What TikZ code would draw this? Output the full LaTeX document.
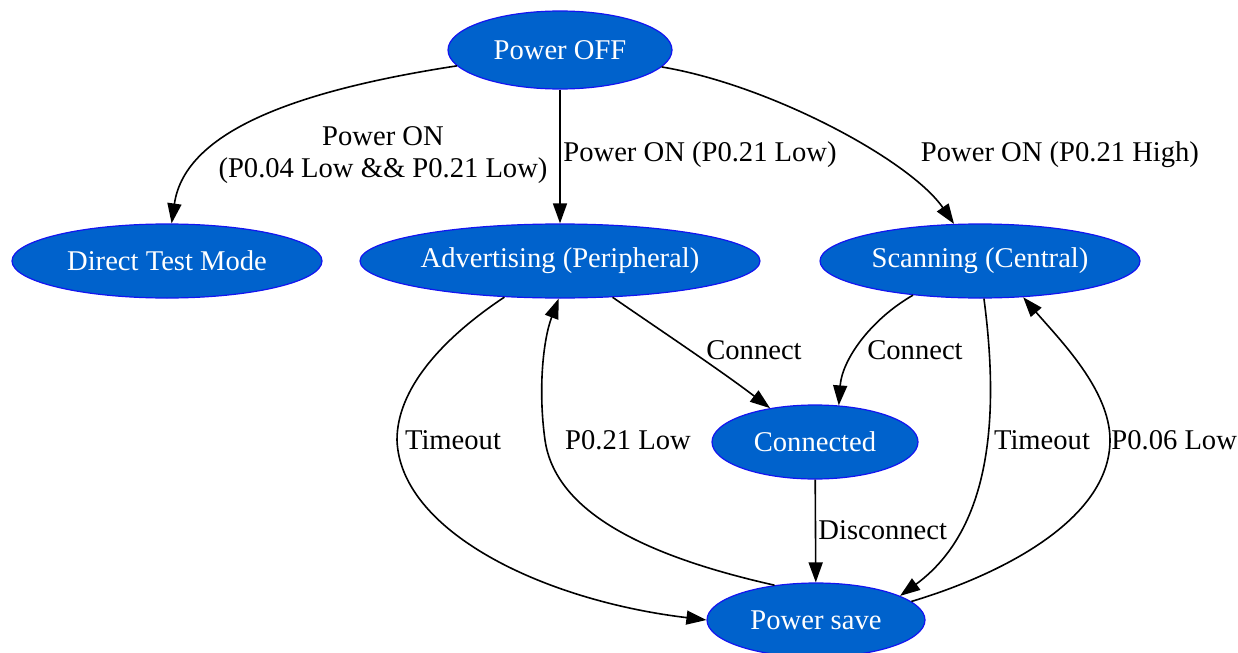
\documentclass[tikz,border=0pt]{standalone}
\usepackage{fontspec}
\setmainfont{Liberation Serif}
\usepackage{xcolor}
\usetikzlibrary{shapes.geometric,arrows.meta}
\definecolor{statefill}{RGB}{0,98,204}
\definecolor{stateline}{RGB}{20,20,240}

\begin{document}
\begin{tikzpicture}[x=0.5pt,y=-0.5pt,
  state/.style={ellipse,draw=stateline,fill=statefill,text=white,line width=0.6pt,inner sep=0pt,minimum height=37pt,font=\fontsize{14.3}{16}\selectfont},
  trans/.style={-{Triangle[length=10pt,width=7pt]},line width=0.8pt,black},
  lbl/.style={inner sep=0pt,font=\fontsize{14.3}{16}\selectfont,align=center}]
\useasboundingbox (0,0) rectangle (1238,653);

\node[state,minimum width=112pt,minimum height=39pt] (off) at (560,50) {Power OFF};
\node[state,minimum width=155pt] (dtm) at (167,261) {Direct Test Mode};
\node[state,minimum width=200pt] (adv) at (560,261) {Advertising (Peripheral)};
\node[state,minimum width=160pt] (scan) at (980,261) {Scanning (Central)};
\node[state,minimum width=103pt] (conn) at (815,442) {Connected};
\node[state,minimum width=109pt] (save) at (816,620) {Power save};

\draw[trans] (off) .. controls (300,90) and (185,130) .. (dtm.83);
\node[lbl] (l1) at (383,155) {Power ON\\(P0.04 Low \&\& P0.21 Low)};
\draw[trans] (off) -- (adv);
\node[lbl,anchor=west] (l2) at (563,155) {Power ON (P0.21 Low)};
\draw[trans] (off) .. controls (770,85) and (910,160) .. (scan.125);
\node[lbl] (l3) at (1060,155) {Power ON (P0.21 High)};

\draw[trans] (adv) .. controls (660,330) and (720,370) .. (conn.143);
\node[lbl] (l4) at (754,350) {Connect};
\draw[trans] (scan.207) .. controls (870,320) and (842,360) .. (conn.57);
\node[lbl] (l5) at (915,350) {Connect};

\draw[trans] (adv.213) .. controls (440,340) and (397,390) .. (397,440)
  .. controls (400,530) and (540,600) .. (save.west);
\node[lbl] (l6) at (453,440) {Timeout};
\draw[trans] (save.140) .. controls (640,555) and (555,510) .. (545,440)
  .. controls (538,390) and (543,340) .. (adv.268);
\node[lbl] (l7) at (628,440) {P0.21 Low};

\draw[trans] (conn) -- (save);
\node[lbl,anchor=west] (l8) at (818,530) {Disconnect};

\draw[trans] (scan.276) .. controls (1000,420) and (990,530) .. (save.16);
\node[lbl] (l9) at (1042,440) {Timeout};
\draw[trans] (save.11) .. controls (1000,575) and (1110,520) .. (1110,440)
  .. controls (1110,390) and (1060,340) .. (scan.320);
\node[lbl,anchor=west] (l10) at (1111,440) {P0.06 Low};
\end{tikzpicture}
\end{document}
